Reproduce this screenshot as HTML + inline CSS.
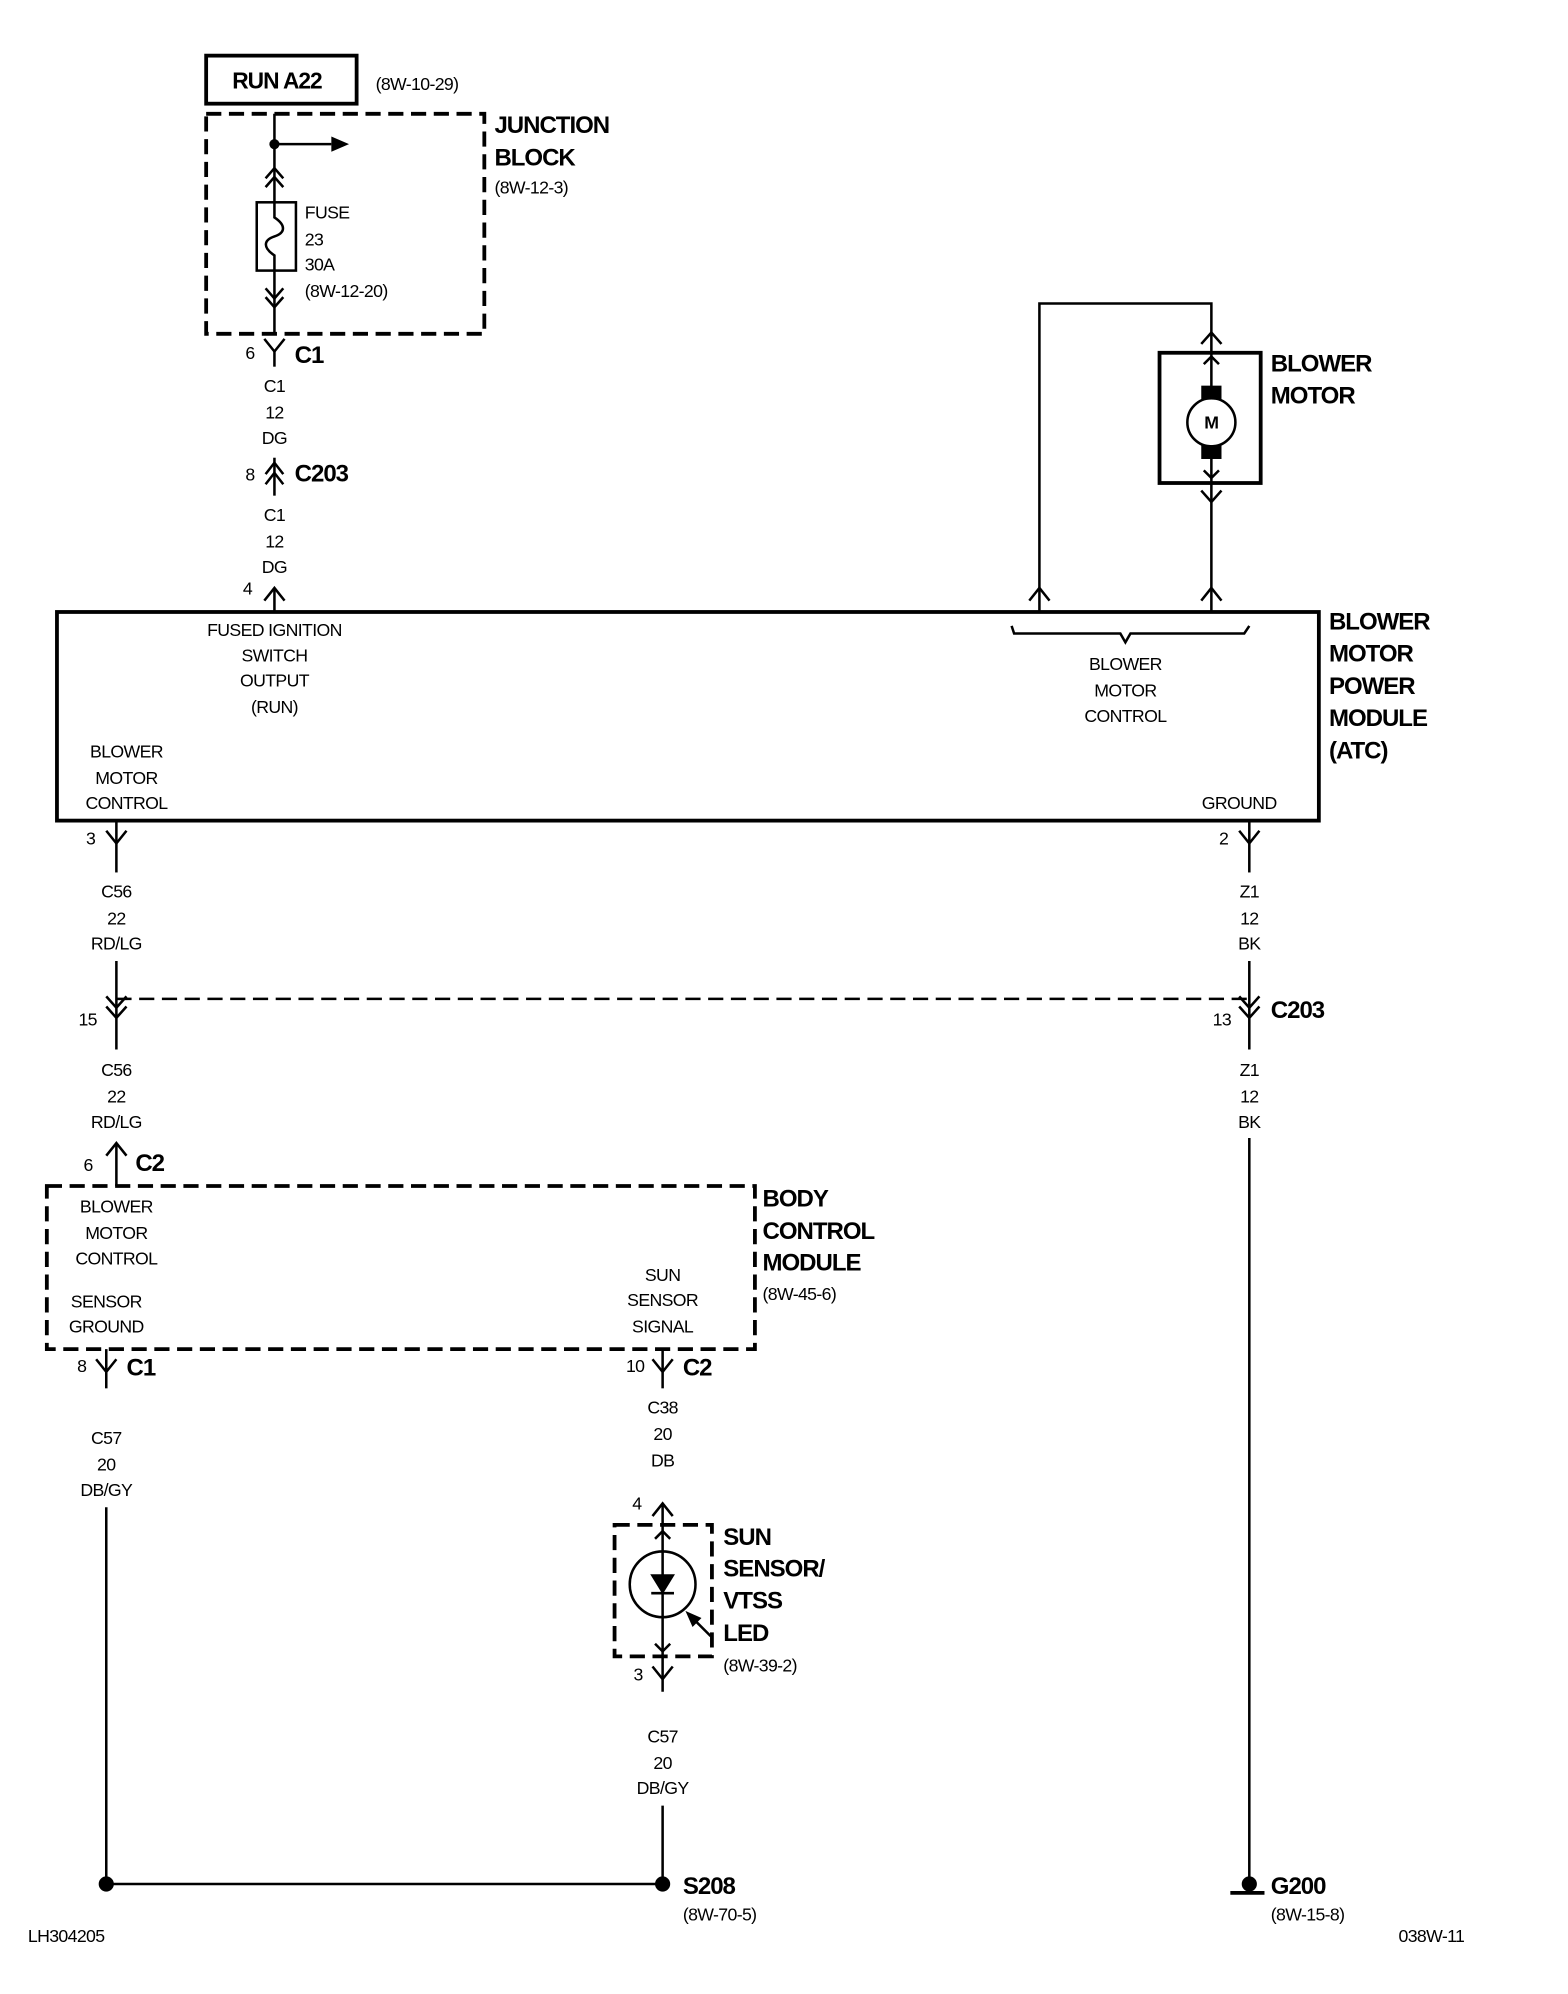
<!DOCTYPE html>
<html><head><meta charset="utf-8"><style>
html,body{margin:0;padding:0;background:#fff;}
svg{display:block;}
text{font-family:"Liberation Sans",Arial,sans-serif;fill:#000;}
.s{font-size:14px;letter-spacing:-0.5px}
.b{font-size:19px;font-weight:bold;letter-spacing:-0.8px}
.bs{font-size:18px;font-weight:bold;letter-spacing:-0.8px}
</style></head><body>
<svg width="1568" height="1994" viewBox="0 0 1240 1577" xmlns="http://www.w3.org/2000/svg">
<g fill="none" stroke="#000" stroke-width="2">
<rect x="163" y="44" width="119" height="38" stroke-width="3"/>
<rect x="163" y="90" width="220" height="174" stroke-width="3" stroke-dasharray="12,6"/>
<line x1="217" y1="90" x2="217" y2="160"/>
<line x1="217" y1="114" x2="262" y2="114"/>
<rect x="203" y="160" width="31" height="54"/>
<path d="M217 160 L217 172 C226 178 226 184 217 187 C208 190 208 196 217 202 L217 214"/>
<path d="M210 141 L217 133 L224 141 M210 148 L217 140 L224 148"/>
<line x1="217" y1="214" x2="217" y2="264"/>
<path d="M210 228 L217 236 L224 228 M210 235 L217 243 L224 235"/>
<path d="M209 268 L217 278 L225 268"/>
<line x1="217" y1="278" x2="217" y2="290"/>
<line x1="217" y1="362" x2="217" y2="392"/>
<path d="M210 375 L217 366 L224 375 M210 383 L217 374 L224 383"/>
<line x1="217" y1="465" x2="217" y2="484"/>
<path d="M209 475 L217 465 L225 475"/>
<rect x="45" y="484" width="998" height="165" stroke-width="3"/>
<path d="M800 495 L802 501 L886 501 L890 508 L894 501 L984 501 L988 495"/>
<path d="M822 484 L822 240 L958 240 L958 279"/>
<path d="M814 475 L822 465 L830 475"/>
<path d="M950 272 L958 263 L966 272"/>
<rect x="917" y="279" width="80" height="103" stroke-width="3"/>
<line x1="958" y1="279" x2="958" y2="484"/>
<path d="M952 288 L958 282 L964 288 M952 372 L958 378 L964 372"/>
<circle cx="958" cy="334" r="19" fill="#fff"/>
<rect x="951" y="306" width="14" height="9" fill="#000"/>
<rect x="951" y="353" width="14" height="9" fill="#000"/>
<path d="M950 388 L958 397 L966 388"/>
<path d="M950 475 L958 465 L966 475"/>
<line x1="92" y1="649" x2="92" y2="690"/>
<path d="M84 657 L92 667 L100 657"/>
<line x1="988" y1="649" x2="988" y2="690"/>
<path d="M980 657 L988 667 L996 657"/>
<line x1="92" y1="760" x2="92" y2="830"/>
<line x1="988" y1="760" x2="988" y2="830"/>
<path d="M84 788 L92 797 L100 788 M84 796 L92 805 L100 796"/>
<path d="M980 788 L988 797 L996 788 M980 796 L988 805 L996 796"/>
<line x1="92" y1="790" x2="988" y2="790" stroke-dasharray="12,6"/>
<line x1="92" y1="905" x2="92" y2="938"/>
<path d="M84 914 L92 904 L100 914"/>
<line x1="988" y1="900" x2="988" y2="1490"/>
<rect x="37" y="938" width="560" height="129" stroke-width="3" stroke-dasharray="12,6"/>
<line x1="84" y1="1067" x2="84" y2="1098"/>
<line x1="84" y1="1192" x2="84" y2="1490"/>
<path d="M76 1075 L84 1085 L92 1075"/>
<line x1="524" y1="1067" x2="524" y2="1098"/>
<path d="M516 1075 L524 1085 L532 1075"/>
<line x1="524" y1="1189" x2="524" y2="1206"/>
<path d="M516 1199 L524 1189 L532 1199"/>
<rect x="486" y="1206" width="77" height="104" stroke-width="3" stroke-dasharray="12,6"/>
<line x1="524" y1="1206" x2="524" y2="1338"/>
<path d="M518 1217 L524 1211 L530 1217 M518 1300 L524 1306 L530 1300"/>
<circle cx="524" cy="1253" r="26"/>
<path d="M516 1246 L532 1246 L524 1259 Z" fill="#000"/>
<line x1="515" y1="1260" x2="533" y2="1260"/>
<line x1="562" y1="1294" x2="546" y2="1278"/>
<path d="M544 1276 L553 1280 L548 1285 Z" fill="#000"/>
<path d="M516 1318 L524 1328 L532 1318"/>
<line x1="524" y1="1428" x2="524" y2="1490"/>
<line x1="84" y1="1490" x2="524" y2="1490"/>
<circle cx="84" cy="1490" r="5" fill="#000"/>
<circle cx="524" cy="1490" r="5" fill="#000"/>
<circle cx="988" cy="1490" r="5" fill="#000"/>
<line x1="973" y1="1497" x2="1000" y2="1497" stroke-width="3"/>
</g>
<path d="M262 108 L276 114 L262 120 Z" fill="#000"/>
<circle cx="217" cy="114" r="4" fill="#000"/>
<text x="958" y="339" class="s" text-anchor="middle" font-weight="bold">M</text>

<text x="219" y="70" class="bs" text-anchor="middle">RUN A22</text>
<text x="297" y="71" class="s">(8W-10-29)</text>
<text x="391" y="105" class="b">JUNCTION</text>
<text x="391" y="131" class="b">BLOCK</text>
<text x="391" y="153" class="s">(8W-12-3)</text>
<text x="241" y="173" class="s">FUSE</text>
<text x="241" y="194" class="s">23</text>
<text x="241" y="214" class="s">30A</text>
<text x="241" y="235" class="s">(8W-12-20)</text>
<text x="194" y="284" class="s">6</text>
<text x="233" y="287" class="b">C1</text>
<g class="s" text-anchor="middle">
<text x="217" y="310">C1</text><text x="217" y="331">12</text><text x="217" y="351">DG</text>
<text x="217" y="412">C1</text><text x="217" y="433">12</text><text x="217" y="453">DG</text>
<text x="217" y="503">FUSED IGNITION</text><text x="217" y="523">SWITCH</text><text x="217" y="543">OUTPUT</text><text x="217" y="564">(RUN)</text>
<text x="100" y="599">BLOWER</text><text x="100" y="620">MOTOR</text><text x="100" y="640">CONTROL</text>
<text x="980" y="640">GROUND</text>
<text x="890" y="530">BLOWER</text><text x="890" y="551">MOTOR</text><text x="890" y="571">CONTROL</text>
<text x="92" y="710">C56</text><text x="92" y="731">22</text><text x="92" y="751">RD/LG</text>
<text x="988" y="710">Z1</text><text x="988" y="731">12</text><text x="988" y="751">BK</text>
<text x="92" y="851">C56</text><text x="92" y="872">22</text><text x="92" y="892">RD/LG</text>
<text x="988" y="851">Z1</text><text x="988" y="872">12</text><text x="988" y="892">BK</text>
<text x="92" y="959">BLOWER</text><text x="92" y="980">MOTOR</text><text x="92" y="1000">CONTROL</text>
<text x="84" y="1034">SENSOR</text><text x="84" y="1054">GROUND</text>
<text x="524" y="1013">SUN</text><text x="524" y="1033">SENSOR</text><text x="524" y="1054">SIGNAL</text>
<text x="84" y="1142">C57</text><text x="84" y="1163">20</text><text x="84" y="1183">DB/GY</text>
<text x="524" y="1118">C38</text><text x="524" y="1139">20</text><text x="524" y="1160">DB</text>
<text x="524" y="1378">C57</text><text x="524" y="1399">20</text><text x="524" y="1419">DB/GY</text>
</g>
<text x="192" y="470" class="s">4</text>
<text x="194" y="380" class="s">8</text>
<text x="233" y="381" class="b">C203</text>
<text x="1051" y="498" class="b">BLOWER</text>
<text x="1051" y="523" class="b">MOTOR</text>
<text x="1051" y="549" class="b">POWER</text>
<text x="1051" y="574" class="b">MODULE</text>
<text x="1051" y="600" class="b">(ATC)</text>
<text x="1005" y="294" class="b">BLOWER</text>
<text x="1005" y="319" class="b">MOTOR</text>
<text x="68" y="668" class="s">3</text>
<text x="964" y="668" class="s">2</text>
<text x="62" y="811" class="s">15</text>
<text x="959" y="811" class="s">13</text>
<text x="1005" y="805" class="b">C203</text>
<text x="66" y="926" class="s">6</text>
<text x="107" y="926" class="b">C2</text>
<text x="603" y="954" class="b">BODY</text>
<text x="603" y="980" class="b">CONTROL</text>
<text x="603" y="1005" class="b">MODULE</text>
<text x="603" y="1028" class="s">(8W-45-6)</text>
<text x="61" y="1085" class="s">8</text>
<text x="100" y="1088" class="b">C1</text>
<text x="495" y="1085" class="s">10</text>
<text x="540" y="1088" class="b">C2</text>
<text x="500" y="1194" class="s">4</text>
<text x="572" y="1222" class="b">SUN</text>
<text x="572" y="1247" class="b">SENSOR/</text>
<text x="572" y="1272" class="b">VTSS</text>
<text x="572" y="1298" class="b">LED</text>
<text x="572" y="1322" class="s">(8W-39-2)</text>
<text x="501" y="1329" class="s">3</text>
<text x="540" y="1498" class="b">S208</text>
<text x="540" y="1519" class="s">(8W-70-5)</text>
<text x="1005" y="1498" class="b">G200</text>
<text x="1005" y="1519" class="s">(8W-15-8)</text>
<text x="22" y="1536" class="s">LH304205</text>
<text x="1106" y="1536" class="s">038W-11</text>
</svg>
</body></html>
